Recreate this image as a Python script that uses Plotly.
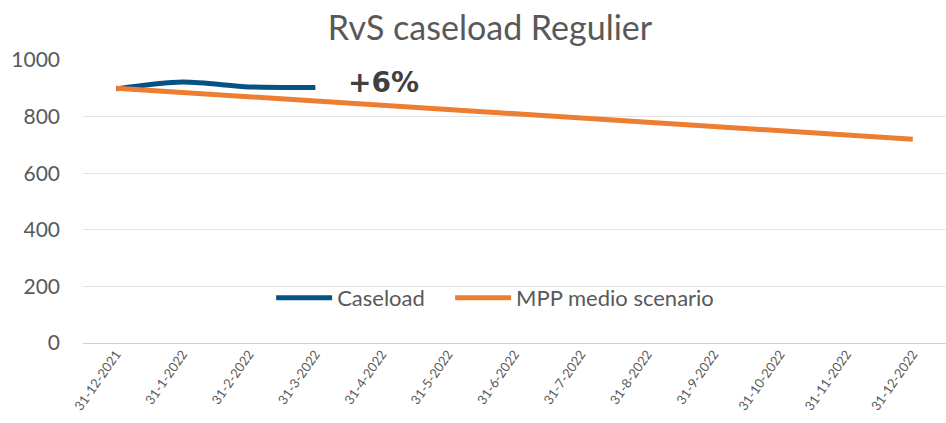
import plotly.graph_objects as go

# Data
dates = [
    "31-12-2021", "31-1-2022", "31-2-2022", "31-3-2022", "31-4-2022",
    "31-5-2022", "31-6-2022", "31-7-2022", "31-8-2022", "31-9-2022",
    "31-10-2022", "31-11-2022", "31-12-2022",
]
caseload = [898, 922, 905, 903]
mpp_medio = [900, 885, 870, 855, 840, 825, 810, 795, 780, 765, 750, 735, 720]

FONT = "Lato, 'Open Sans', sans-serif"
GREY = "#595959"

fig = go.Figure()

fig.add_trace(go.Scatter(
    x=dates[:len(caseload)],
    y=caseload,
    name="Caseload",
    mode="lines",
    line=dict(color="#075285", width=5, shape="spline", smoothing=0.8),
    legend="legend",
))

fig.add_trace(go.Scatter(
    x=dates,
    y=mpp_medio,
    name="MPP medio scenario",
    mode="lines",
    line=dict(color="#ed7d31", width=5),
    legend="legend2",
))

# growth label next to the end of the caseload line
fig.add_annotation(
    x=dates[len(caseload) - 1], y=caseload[-1],
    text="<b>+6%</b>",
    showarrow=False,
    xanchor="left", yanchor="middle",
    xshift=31, yshift=5,
    font=dict(family="DejaVu Sans", size=28, color="#404040"),
)

legend_style = dict(
    orientation="h",
    xanchor="left",
    y=0.159, yanchor="middle",
    bgcolor="rgba(0,0,0,0)",
    font=dict(family=FONT, size=22, color=GREY),
    itemwidth=56,
)

fig.update_layout(
    width=946,
    height=423,
    margin=dict(l=83, r=0, t=60, b=80),
    paper_bgcolor="white",
    plot_bgcolor="white",
    font=dict(family=FONT, color=GREY),
    title=dict(
        text="RvS caseload Regulier",
        x=0.518, xanchor="center",
        y=0.934, yanchor="middle",
        font=dict(family=FONT, size=34, color=GREY),
    ),
    legend=dict(x=0.218, **legend_style),
    legend2=dict(x=0.4254, **legend_style),
    showlegend=True,
)

fig.update_xaxes(
    type="category",
    categoryorder="array",
    categoryarray=dates,
    range=[-0.5, len(dates) - 0.5],
    tickangle=-55,
    tickfont=dict(family=FONT, size=13, color=GREY),
    showgrid=False,
    showline=False,
    zeroline=False,
    ticks="",
    automargin=False,
)

fig.update_yaxes(
    range=[0, 1000],
    tickvals=[0, 200, 400, 600, 800, 1000],
    tickfont=dict(family=FONT, size=21, color=GREY),
    showgrid=True,
    gridcolor="#e4e4e4",
    gridwidth=1,
    zeroline=True,
    zerolinecolor="#d0d0d0",
    zerolinewidth=1,
    ticklabelstandoff=22,
    automargin=False,
)

# drop the browser's default body margin so the figure sits at the page corner
fig.write_html(
    "out.html",
    config={"displayModeBar": False},
    post_script="document.body.style.margin = '0';",
)
